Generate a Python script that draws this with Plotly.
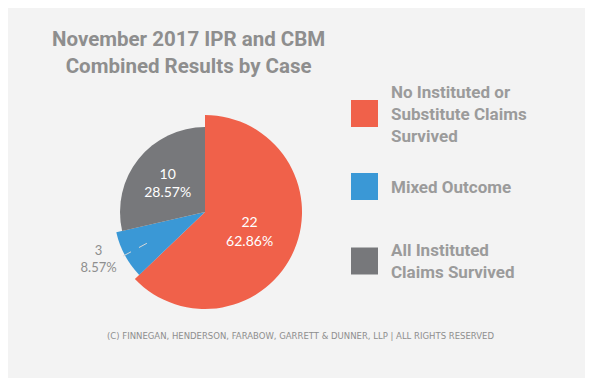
import math
import plotly.graph_objects as go

W, H = 593, 386

# ---- data ----
categories = ["No Instituted or Substitute Claims Survived", "Mixed Outcome", "All Instituted Claims Survived"]
legend_labels = ["No Instituted or<br>Substitute Claims<br>Survived", "Mixed Outcome", "All Instituted<br>Claims Survived"]
values = [22, 3, 10]
colors = ["#f0614a", "#3a98d6", "#77787b"]
title_lines = ["November 2017 IPR and CBM", "Combined Results by Case"]
footer = "(C) FINNEGAN, HENDERSON, FARABOW, GARRETT &amp; DUNNER, LLP | ALL RIGHTS RESERVED"

# ---- layout constants (screen px; page body has an 8px margin) ----
OFF = 8
cx, cy = 205, 212          # pie centre
radii = [97, 91, 85]       # slice radius per category
text_pos = ["inside", "outside", "inside"]
TXT_GRAY = "#8e8e8e"
BG = "#f3f3f3"
HEAD = "Roboto, Arial, sans-serif"


def px(x):
    return (x - OFF) / W


def py(y):
    return 1 - (y - OFF) / H


fig = go.Figure()
transparent = "rgba(0,0,0,0)"
for i, cat in enumerate(categories):
    r = radii[i]
    fig.add_trace(go.Pie(
        labels=categories,
        values=values,
        sort=False,
        direction="clockwise",
        rotation=0,
        marker=dict(colors=[colors[j] if j == i else transparent for j in range(len(values))],
                    line=dict(width=0)),
        texttemplate=["%{value}<br>%{percent:.2%}" if j == i else "" for j in range(len(values))],
        textposition=[text_pos[i] if j == i else "none" for j in range(len(values))],
        insidetextfont=dict(color="white", size=14, family="Lato, Arial, sans-serif"),
        outsidetextfont=dict(color=TXT_GRAY, size=13, family="Lato, Arial, sans-serif"),
        insidetextorientation="horizontal",
        domain=dict(x=[px(cx - r), px(cx + r)], y=[py(cy + r), py(cy - r)]),
        hoverinfo="skip",
        showlegend=False,
    ))

shapes = [
    dict(type="rect", xref="paper", yref="paper", x0=-0.05, x1=px(586), y0=py(378), y1=1.05,
         fillcolor=BG, line=dict(width=0), layer="below"),
]

# dashed leader for the outside label, along the slice's mid angle
total = sum(values)
cum = 0
for i, v in enumerate(values):
    if text_pos[i] == "outside":
        ang = 2 * math.pi * (cum + v / 2) / total
        r1, r2 = 66, 95
        shapes.append(dict(type="line", xref="paper", yref="paper",
                           x0=px(cx + r1 * math.sin(ang)), y0=py(cy - r1 * math.cos(ang)),
                           x1=px(cx + r2 * math.sin(ang)), y1=py(cy - r2 * math.cos(ang)),
                           line=dict(color="#d8d8d8", width=1, dash="dash")))
    cum += v

annotations = [
    dict(x=px(189), y=py(53), xref="paper", yref="paper", text="<br>".join(f"<b>{t}</b>" for t in title_lines),
         showarrow=False, font=dict(family=HEAD, size=20.5, color=TXT_GRAY), align="center",
         xanchor="center", yanchor="middle"),
    dict(x=px(300), y=py(336), xref="paper", yref="paper", text=footer, showarrow=False,
         font=dict(family="DejaVu Sans, sans-serif", size=8.5, color=TXT_GRAY), xanchor="center", yanchor="middle"),
]

leg_y = [113.5, 186.5, 261]
for i, lab in enumerate(legend_labels):
    shapes.append(dict(type="rect", xref="paper", yref="paper",
                       x0=px(351), x1=px(378), y0=py(leg_y[i] + 13.5), y1=py(leg_y[i] - 13.5),
                       fillcolor=colors[i], line=dict(width=0)))
    annotations.append(dict(x=px(389), y=py(leg_y[i]), xref="paper", yref="paper",
                            text="<b>" + lab + "</b>", showarrow=False, align="left",
                            xanchor="left", yanchor="middle",
                            font=dict(family=HEAD, size=17, color="#9b9b9b")))

fig.update_layout(
    width=W, height=H,
    margin=dict(l=0, r=0, t=0, b=0),
    paper_bgcolor="white",
    plot_bgcolor="white",
    shapes=shapes,
    annotations=annotations,
)

fig.write_html("out.html")
